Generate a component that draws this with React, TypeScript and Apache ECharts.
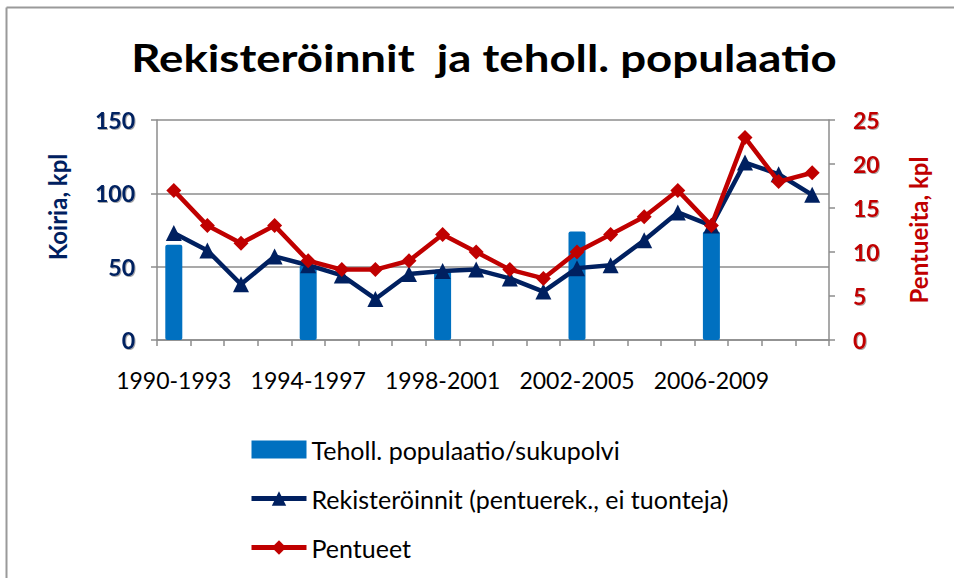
import React, { useEffect, useRef } from "react";
import * as echarts from "echarts";

const years = ["1990","1991","1992","1993","1994","1995","1996","1997","1998","1999","2000","2001","2002","2003","2004","2005","2006","2007","2008","2009"];
const periodLabels: Record<string, string> = {
  "1990": "1990-1993",
  "1994": "1994-1997",
  "1998": "1998-2001",
  "2002": "2002-2005",
  "2006": "2006-2009",
};
const effectivePopulation = [65, null, null, null, 51, null, null, null, 48, null, null, null, 74, null, null, null, 74, null, null, null];
const registrations = [73, 61, 38, 57, 51, 44, 28, 45, 47, 48, 42, 33, 49, 51, 68, 87, 78, 121, 113, 99];
const litters = [17, 13, 11, 13, 9, 8, 8, 9, 12, 10, 8, 7, 10, 12, 14, 17, 13, 23, 18, 19];

const TITLE = "Rekisteröinnit  ja teholl. populaatio";
const NAVY = "#002060";
const RED = "#C00000";
const BLUE = "#0070C0";
const GRID = "#8c8c8c";
const FONT = "Lato, 'Noto Sans', sans-serif";

export default function App() {
  const ref = useRef<HTMLDivElement>(null);
  useEffect(() => {
    if (!ref.current) return;
    const chart = echarts.init(ref.current, undefined, { renderer: "svg" });
    chart.setOption({
      animation: false,
      backgroundColor: "#ffffff",
      textStyle: { fontFamily: FONT },
      grid: { left: 157, right: 125, top: 120, bottom: 238, containLabel: false },
      legend: {
        orient: "vertical",
        left: 244,
        top: 432,
        itemWidth: 55,
        itemHeight: 18,
        itemGap: 24,
        textStyle: { fontFamily: FONT, fontSize: 25, color: "#000" },
        data: [
          { name: "Teholl. populaatio/sukupolvi", icon: "rect" },
          { name: "Rekisteröinnit (pentuerek., ei tuonteja)", lineStyle: { width: 5 } },
          { name: "Pentueet", lineStyle: { width: 5 } },
        ],
      },
      xAxis: {
        type: "category",
        data: years,
        boundaryGap: true,
        axisLine: { lineStyle: { color: GRID, width: 1.5 } },
        axisTick: { show: true, interval: 0, length: 6, lineStyle: { color: GRID, width: 1.5 } },
        axisLabel: {
          interval: 3,
          margin: 28,
          fontSize: 23,
          color: "#000",
          fontFamily: FONT,
          formatter: (v: string) => periodLabels[v] ?? "",
        },
      },
      yAxis: [
        {
          type: "value",
          min: 0,
          max: 150,
          interval: 50,
          axisLine: { show: true, lineStyle: { color: GRID, width: 1.5 } },
          axisTick: { show: true, length: 6, lineStyle: { color: GRID, width: 1.5 } },
          splitLine: { show: true, lineStyle: { color: GRID, width: 1.5 } },
          axisLabel: {
            margin: 22,
            fontSize: 23,
            fontWeight: "bold",
            color: NAVY,
            fontFamily: FONT,
            textShadowColor: "rgba(0,0,0,0.35)",
            textShadowBlur: 1,
            textShadowOffsetX: 1,
            textShadowOffsetY: 1,
          },
        },
        {
          type: "value",
          min: 0,
          max: 25,
          interval: 5,
          position: "right",
          axisLine: { show: true, lineStyle: { color: GRID, width: 1.5 } },
          axisTick: { show: true, length: 6, lineStyle: { color: GRID, width: 1.5 } },
          splitLine: { show: false },
          axisLabel: {
            margin: 24,
            fontSize: 23,
            fontWeight: "bold",
            color: RED,
            fontFamily: FONT,
            textShadowColor: "rgba(0,0,0,0.35)",
            textShadowBlur: 1,
            textShadowOffsetX: 1,
            textShadowOffsetY: 1,
          },
        },
      ],
      graphic: [
        { type: "line", shape: { x1: 6.5, y1: 7.5, x2: 954, y2: 7.5 }, style: { stroke: "#9a9a9a", lineWidth: 2 } },
        { type: "line", shape: { x1: 6.5, y1: 7.5, x2: 6.5, y2: 578 }, style: { stroke: "#9a9a9a", lineWidth: 2 } },
        {
          type: "text",
          x: 484,
          y: 58,
          scaleX: 1.2,
          style: {
            text: TITLE,
            fill: "#000",
            font: `bold 38px ${FONT}`,
            align: "center",
            verticalAlign: "middle",
          },
        },
        {
          type: "text",
          x: 57,
          y: 207,
          rotation: Math.PI / 2,
          style: {
            text: "Koiria, kpl",
            fill: NAVY,
            font: `bold 24px ${FONT}`,
            align: "center",
            verticalAlign: "middle",
          },
        },
        {
          type: "text",
          x: 918,
          y: 230,
          rotation: Math.PI / 2,
          style: {
            text: "Pentueita, kpl",
            fill: RED,
            font: `bold 24px ${FONT}`,
            align: "center",
            verticalAlign: "middle",
          },
        },
      ],
      series: [
        {
          name: "Teholl. populaatio/sukupolvi",
          type: "bar",
          yAxisIndex: 0,
          data: effectivePopulation,
          barWidth: 17,
          barGap: "-100%",
          itemStyle: { color: BLUE, borderRadius: 2 },
          z: 1,
        },
        {
          name: "Rekisteröinnit (pentuerek., ei tuonteja)",
          type: "line",
          yAxisIndex: 0,
          data: registrations,
          symbol: "triangle",
          symbolSize: 16,
          lineStyle: { color: NAVY, width: 4.5 },
          itemStyle: { color: NAVY },
          z: 3,
        },
        {
          name: "Pentueet",
          type: "line",
          yAxisIndex: 1,
          data: litters,
          symbol: "diamond",
          symbolSize: 15,
          lineStyle: { color: RED, width: 4.5 },
          itemStyle: { color: RED },
          z: 4,
        },
      ],
    });
    return () => chart.dispose();
  }, []);
  return <div ref={ref} style={{ position: "absolute", left: 0, top: 0, width: 954, height: 578 }} />;
}
